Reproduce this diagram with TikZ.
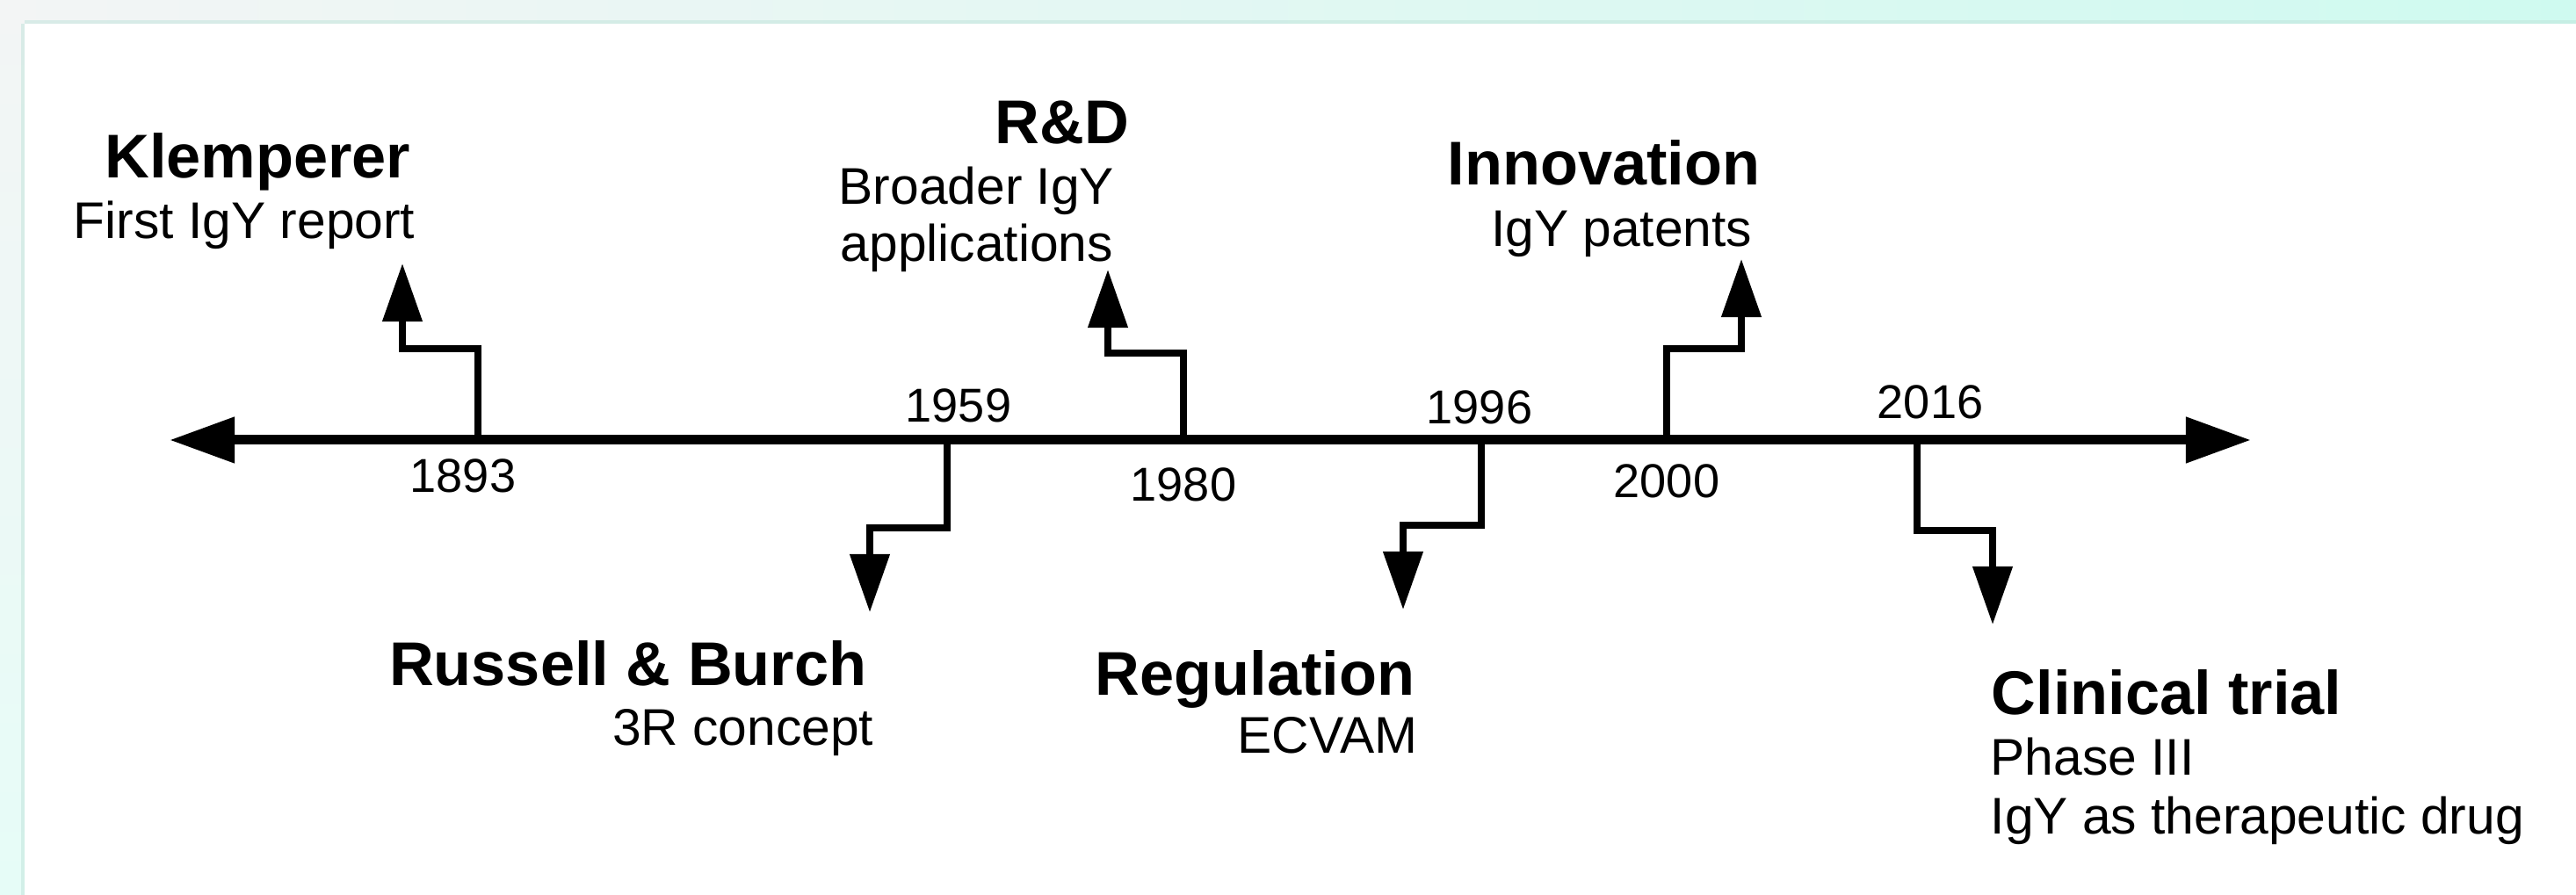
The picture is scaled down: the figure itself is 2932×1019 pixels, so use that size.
\documentclass[tikz,border=0pt]{standalone}
\usepackage{fontspec}
\setmainfont{Liberation Sans}
\usetikzlibrary{arrows.meta}
\definecolor{bgcyan}{HTML}{CFFAF0}
\definecolor{bggray}{HTML}{F3F5F5}
\definecolor{bgleft}{HTML}{E6FCF7}
\definecolor{shadowc}{HTML}{BFE3DA}
\begin{document}
\begin{tikzpicture}[x=0.01cm,y=-0.01cm,
  axisline/.style={line width=0.11cm,
    {Triangle[length=0.74cm,width=0.50cm]}-{Triangle[length=0.74cm,width=0.50cm]}},
  conn/.style={line width=0.075cm, line join=miter,
    -{Triangle[length=0.66cm,width=0.44cm]}},
  title/.style={inner sep=0pt, font=\fontsize{20}{24}\selectfont\bfseries},
  sub/.style={inner sep=0pt, font=\fontsize{16.7}{19}\selectfont},
  year/.style={inner sep=0pt, anchor=base, font=\fontsize{15.4}{18}\selectfont}]
% background
\useasboundingbox (0,0) rectangle (2932,1019);
\shade[left color=bggray, right color=bgcyan] (0,0) rectangle (2932,27);
\shade[top color=bggray, bottom color=bgleft] (0,0) rectangle (28,1019);
\fill[shadowc, opacity=0.5] (28,23) rectangle (2932,27);
\fill[shadowc, opacity=0.5] (24,27) rectangle (28,1019);
\fill[white] (28,27) rectangle (2932,1019);

% timeline
\coordinate (tl) at (193,501);
\coordinate (tr) at (2562,501);
\draw[axisline] (tl) -- (tr);

% tick origins, bends, tips
\coordinate (t1893) at (544,501);  \coordinate (b1893) at (458,397);  \coordinate (a1893) at (458,300);
\coordinate (t1959) at (1078,501); \coordinate (b1959) at (990,601);  \coordinate (a1959) at (990,697);
\coordinate (t1980) at (1347,501); \coordinate (b1980) at (1261,402); \coordinate (a1980) at (1261,307);
\coordinate (t1996) at (1686,501); \coordinate (b1996) at (1597,598); \coordinate (a1996) at (1597,694);
\coordinate (t2000) at (1897,501); \coordinate (b2000) at (1982,397); \coordinate (a2000) at (1982,295);
\coordinate (t2016) at (2182,501); \coordinate (b2016) at (2268,604); \coordinate (a2016) at (2268,711);

\draw[conn] (t1893) |- (b1893) -- (a1893);
\draw[conn] (t1959) |- (b1959) -- (a1959);
\draw[conn] (t1980) |- (b1980) -- (a1980);
\draw[conn] (t1996) |- (b1996) -- (a1996);
\draw[conn] (t2000) |- (b2000) -- (a2000);
\draw[conn] (t2016) |- (b2016) -- (a2016);

% years
\node[year] (y1893) at (527,561) {1893};
\node[year] (y1959) at (1091,481) {1959};
\node[year] (y1980) at (1347,571) {1980};
\node[year] (y1996) at (1684,483) {1996};
\node[year] (y2000) at (1897,567) {2000};
\node[year] (y2016) at (2197,477) {2016};

% labels
\node[title, anchor=base east] (klem) at (468,203) {Klemperer};
\node[sub, anchor=base east] (klems) at (473,272) {First IgY report};

\node[title, anchor=base west] (rd) at (1132,164) {R\&D};
\node[sub, anchor=base west] (rds1) at (954,233) {Broader IgY};
\node[sub, anchor=base west] (rds2) at (956,298) {applications};

\node[title, anchor=base east] (inno) at (2004,211) {Innovation};
\node[sub, anchor=base east] (innos) at (1995,281) {IgY patents};

\node[title, anchor=base east] (rb) at (987,781) {Russell \& Burch};
\node[sub, anchor=base east] (rbs) at (995,849) {3R concept};

\node[title, anchor=base east] (reg) at (1611,792) {Regulation};
\node[sub, anchor=base east] (regs) at (1614,858) {ECVAM};

\node[title, anchor=base west] (ct) at (2266,814) {Clinical trial};
\node[sub, anchor=base west] (cts1) at (2265,883) {Phase III};
\node[sub, anchor=base west] (cts2) at (2265,950) {IgY as therapeutic drug};
\end{tikzpicture}
\end{document}
